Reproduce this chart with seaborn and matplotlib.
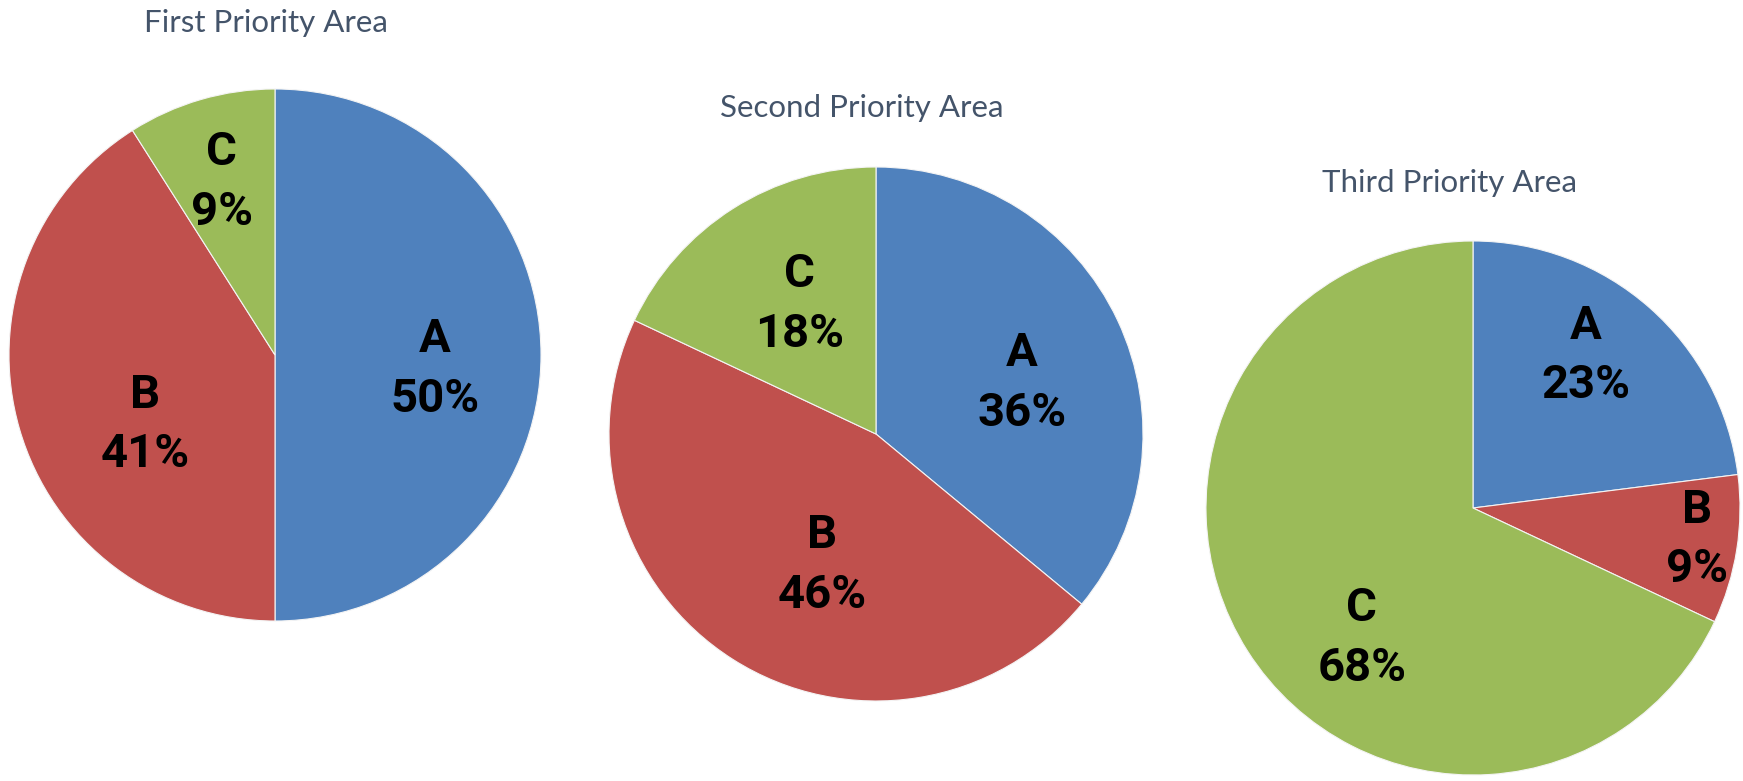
import numpy as np
import seaborn as sns
import matplotlib.pyplot as plt

# data
categories = ["A", "B", "C"]
titles = ["First Priority Area", "Second Priority Area", "Third Priority Area"]
first_area = [50, 41, 9]
second_area = [36, 46, 18]
third_area = [23, 9, 68]

colors = ["#4F81BD", "#C0504D", "#9BBB59"]

sns.set_theme(style="white")
plt.rcParams['font.family'] = ['Roboto', 'DejaVu Sans']

W, H = 1743, 781
fig = plt.figure(figsize=(W / 100, H / 100), dpi=100)

# pie centre (px from top-left) and radius in px
pie_boxes = [(275, 355, 266), (876, 434, 267), (1473, 508, 267)]
# label placement: (radial distance, angle shift from wedge middle in degrees)
label_pos = [
    [(0.604, -5), (0.553, 12), (0.68, 1)],
    [(0.58, -6), (0.53, 10), (0.564, -2)],
    [(0.71, 5), (0.848, 1), (0.64, 17)],
]
# title offsets (px): horizontal shift from centre, gap above the pie top
title_shift = [-9, -14, -24]
title_gap = [66, 59, 58]

all_values = [first_area, second_area, third_area]

for i, vals in enumerate(all_values):
    cx, cy, r = pie_boxes[i]
    ax = fig.add_axes([(cx - r) / W, (H - cy - r) / H, 2 * r / W, 2 * r / H])
    wedges, _ = ax.pie(vals, colors=colors, startangle=90, counterclock=False,
                       wedgeprops=dict(edgecolor="#F4F4F4", linewidth=0.8))
    ax.set_xlim(-1, 1)
    ax.set_ylim(-1, 1)
    ax.set_aspect("equal")
    ax.axis("off")

    for j, w in enumerate(wedges):
        mid = (w.theta1 + w.theta2) / 2.0
        d, shift = label_pos[i][j]
        ang = np.deg2rad(mid + shift)
        ax.text(d * np.cos(ang), d * np.sin(ang), f"{categories[j]}\n{vals[j]}%",
                ha="center", va="center", fontsize=34, fontweight="bold",
                color="black", linespacing=1.45)

    ax.text(0.5 + title_shift[i] / (2 * r), 1.0 + title_gap[i] / (2 * r), titles[i],
            transform=ax.transAxes, ha="center", va="center",
            fontsize=22.5, color="#44546A", family=['Lato', 'DejaVu Sans'])

fig.savefig("out.png", dpi=100, facecolor="white")
